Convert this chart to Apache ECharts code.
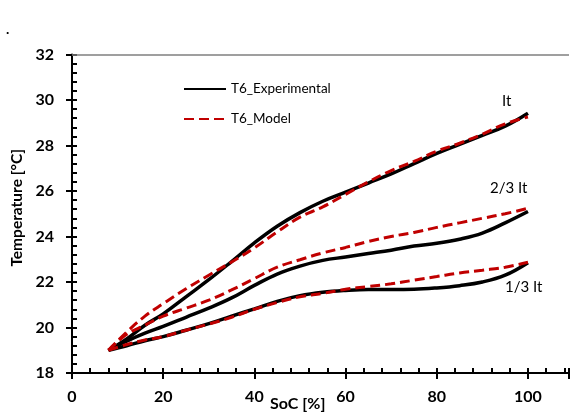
<!DOCTYPE html>
<html>
<head>
<meta charset="utf-8">
<script src="https://cdn.jsdelivr.net/npm/echarts@6/dist/echarts.min.js"></script>
<style>
    html, body { margin: 0; padding: 0; background: #fff; }
    #chart { width: 572px; height: 417px; }
</style>
</head>
<body>
<div id="chart"></div>
<script>
    // SoC sample points (%)
    var soc = [8, 12, 16, 20, 25, 30, 35, 40, 45, 50, 55, 60, 65, 70, 75, 80, 85, 90, 95, 100];

    // temperatures [°C] at each SoC point
    var expIt = [19.0, 19.5, 20.1, 20.6, 21.35, 22.1, 22.9, 23.72, 24.45, 25.05, 25.55, 25.95, 26.35, 26.75, 27.2, 27.65, 28.05, 28.45, 28.85, 29.42];
    var modIt = [19.0, 19.8, 20.5, 21.05, 21.7, 22.3, 22.88, 23.5, 24.2, 24.85, 25.3, 25.85, 26.4, 26.9, 27.3, 27.75, 28.1, 28.5, 28.95, 29.25];
    var exp23 = [19.0, 19.4, 19.75, 20.05, 20.45, 20.85, 21.3, 21.85, 22.35, 22.7, 22.95, 23.1, 23.25, 23.4, 23.58, 23.7, 23.88, 24.15, 24.6, 25.1];
    var mod23 = [19.0, 19.7, 20.1, 20.5, 20.85, 21.2, 21.65, 22.15, 22.65, 22.98, 23.28, 23.52, 23.78, 24.0, 24.18, 24.4, 24.6, 24.8, 25.0, 25.24];
    var exp13 = [19.0, 19.2, 19.42, 19.6, 19.88, 20.17, 20.5, 20.82, 21.15, 21.4, 21.55, 21.63, 21.67, 21.67, 21.68, 21.74, 21.84, 22.0, 22.3, 22.85];
    var mod13 = [19.0, 19.25, 19.45, 19.6, 19.88, 20.15, 20.45, 20.8, 21.1, 21.35, 21.5, 21.68, 21.8, 21.92, 22.08, 22.24, 22.4, 22.52, 22.65, 22.87];

    var font = 'Lato, "Open Sans", sans-serif';

    function pairs(ys) {
        var out = [];
        for (var i = 0; i < soc.length; i++) {
            out.push([soc[i], ys[i]]);
        }
        return out;
    }

    function expSeries(ys) {
        return {
            name: 'T6_Experimental',
            type: 'line',
            data: pairs(ys),
            smooth: 0.4,
            symbol: 'none',
            lineStyle: { color: '#000', width: 3.5 },
            itemStyle: { color: '#000' },
            z: 2
        };
    }

    function modSeries(ys) {
        return {
            name: 'T6_Model',
            type: 'line',
            data: pairs(ys),
            smooth: 0.4,
            symbol: 'none',
            lineStyle: { color: '#c00000', width: 3, type: [10, 5] },
            itemStyle: { color: '#c00000' },
            z: 3
        };
    }

    var chart = echarts.init(document.getElementById('chart'));

    var series = [
        expSeries(expIt), expSeries(exp23), expSeries(exp13),
        modSeries(modIt), modSeries(mod23), modSeries(mod13)
    ];
    // grey frame line along the top
    series[0].markLine = {
        silent: true,
        symbol: 'none',
        label: { show: false },
        lineStyle: { color: '#7f7f7f', width: 1.5, type: 'solid' },
        data: [{ yAxis: 32 }]
    };

    chart.setOption({
        animation: false,
        grid: { left: 72, top: 54.5, right: 0, bottom: 44 },
        legend: {
            orient: 'vertical',
            left: 178,
            top: 77,
            itemWidth: 42,
            itemHeight: 14,
            itemGap: 16,
            data: ['T6_Experimental', 'T6_Model'],
            itemStyle: { opacity: 0 },
            textStyle: { fontFamily: font, fontSize: 13.5, color: '#000' }
        },
        xAxis: [{
            type: 'value',
            min: 0,
            max: 109,
            interval: 20,
            axisLine: { lineStyle: { color: '#000', width: 2 } },
            axisTick: { inside: true, length: 5, lineStyle: { color: '#000', width: 2 } },
            minorTick: { show: true, splitNumber: 5, length: 5, lineStyle: { color: '#000', width: 2 } },
            splitLine: { show: false },
            axisLabel: {
                margin: 16,
                fontFamily: font, fontSize: 16, fontWeight: 'bold', color: '#000',
                formatter: function (v) { return v <= 100 ? String(v) : ''; }
            }
        }, {
            type: 'value',
            position: 'bottom',
            offset: 0,
            min: 0,
            max: 109,
            interval: 20,
            axisLine: { show: false },
            axisTick: { inside: false, length: 6, lineStyle: { color: '#000', width: 2 } },
            splitLine: { show: false },
            axisLabel: { show: false }
        }],
        yAxis: [{
            type: 'value',
            min: 18,
            max: 32,
            interval: 2,
            name: 'Temperature [°C]',
            nameLocation: 'middle',
            nameGap: 46,
            nameTextStyle: { fontFamily: font, fontSize: 15.5, fontWeight: 'bold', color: '#000', padding: [0, 0, 0, 12] },
            axisLine: { show: true, lineStyle: { color: '#000', width: 2 } },
            axisTick: { show: true, inside: true, length: 5, lineStyle: { color: '#000', width: 2 } },
            minorTick: { show: true, splitNumber: 5, length: 5, lineStyle: { color: '#000', width: 2 } },
            splitLine: { show: false },
            axisLabel: { margin: 18, fontFamily: font, fontSize: 16, fontWeight: 'bold', color: '#000' }
        }, {
            type: 'value',
            position: 'left',
            offset: 0,
            min: 18,
            max: 32,
            interval: 2,
            axisLine: { show: false },
            axisTick: { show: true, inside: false, length: 6, lineStyle: { color: '#000', width: 2 } },
            splitLine: { show: false },
            axisLabel: { show: false }
        }],
        graphic: [
            { type: 'text', left: 6, top: 22, style: { text: '.', font: 'bold 14px ' + font, fill: '#000' } },
            { type: 'text', left: 270, top: 396, style: { text: 'SoC [%]', font: 'bold 16px ' + font, fill: '#000' } },
            { type: 'text', left: 502, top: 94, style: { text: 'It', font: '15px ' + font, fill: '#000' } },
            { type: 'text', left: 490, top: 181, style: { text: '2/3 It', font: '15px ' + font, fill: '#000' } },
            { type: 'text', left: 505, top: 280, style: { text: '1/3 It', font: '15px ' + font, fill: '#000' } }
        ],
        series: series
    });
</script>
</body>
</html>
